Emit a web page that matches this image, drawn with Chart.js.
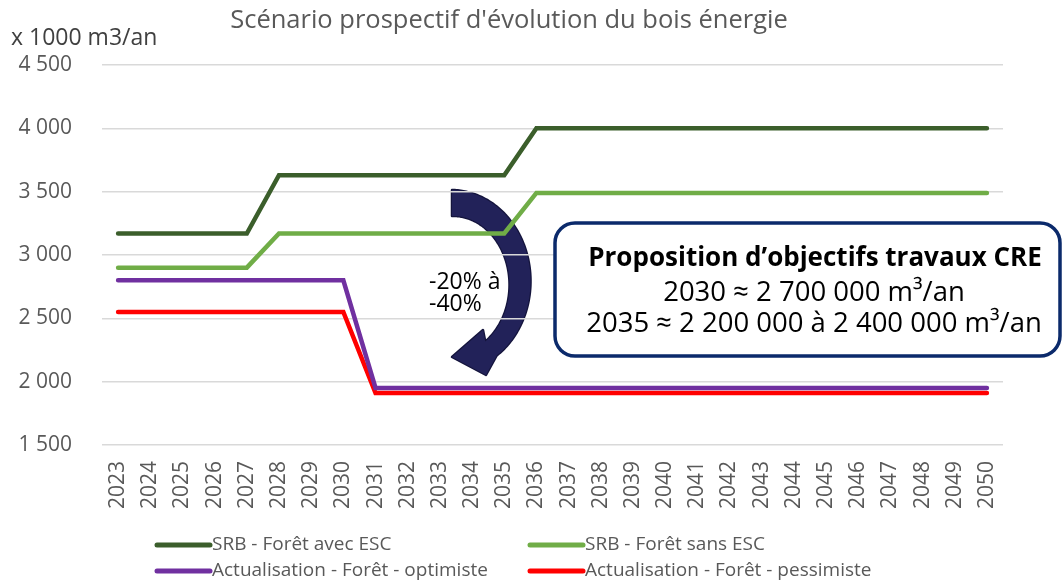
<!DOCTYPE html>
<html>
<head>
<meta charset="utf-8">
<script src="https://cdn.jsdelivr.net/npm/chart.js@4.4.1/dist/chart.umd.min.js"></script>
<style>
  html, body { margin: 0; padding: 0; background: #fff; }
  #wrap { width: 1063px; height: 581px; position: relative; }
</style>
</head>
<body>
<div id="wrap"><canvas id="chart"></canvas></div>
<script>
// ── data ──────────────────────────────────────
const YEARS = [];
for (let y = 2023; y <= 2050; y++) YEARS.push(String(y));

const SRB_AVEC_ESC = [3170, 3170, 3170, 3170, 3170, 3630, 3630, 3630, 3630, 3630, 3630, 3630, 3630, 4000,
  4000, 4000, 4000, 4000, 4000, 4000, 4000, 4000, 4000, 4000, 4000, 4000, 4000, 4000];
const SRB_SANS_ESC = [2900, 2900, 2900, 2900, 2900, 3170, 3170, 3170, 3170, 3170, 3170, 3170, 3170, 3490,
  3490, 3490, 3490, 3490, 3490, 3490, 3490, 3490, 3490, 3490, 3490, 3490, 3490, 3490];
const ACTU_OPTIMISTE = [2800, 2800, 2800, 2800, 2800, 2800, 2800, 2800, 1950, 1950, 1950, 1950, 1950, 1950,
  1950, 1950, 1950, 1950, 1950, 1950, 1950, 1950, 1950, 1950, 1950, 1950, 1950, 1950];
const ACTU_PESSIMISTE = [2550, 2550, 2550, 2550, 2550, 2550, 2550, 2550, 1910, 1910, 1910, 1910, 1910, 1910,
  1910, 1910, 1910, 1910, 1910, 1910, 1910, 1910, 1910, 1910, 1910, 1910, 1910, 1910];

const SERIES_LABELS = ['SRB - Forêt avec ESC', 'SRB - Forêt sans ESC',
  'Actualisation - Forêt - optimiste', 'Actualisation - Forêt - pessimiste'];
const Y_TICKS = [1500, 2000, 2500, 3000, 3500, 4000, 4500];

const TITLE = "Scénario prospectif d'évolution du bois énergie";
const Y_LABEL = 'x 1000 m3/an';
const ARROW_TEXT = ['-20% à', '-40%'];
const BOX_LINES = ['Proposition d’objectifs travaux CRE', '2030 ≈ 2 700 000 m³/an', '2035 ≈ 2 200 000 à 2 400 000 m³/an'];

const FONT = '"Open Sans", "DejaVu Sans", sans-serif';
const GREY = '#595959';

const fmtFr = v => String(v).replace(/\B(?=(\d{3})+(?!\d))/g, ' ');

// ── extras: title, axis label, arrow, box, legend ──
const extras = {
  id: 'extras',
  beforeDraw(chart) {
    // tapered curved arrow, drawn under the gridlines
    const ctx = chart.ctx;
    const cx = 452, cy = 283, rx = 68, ry = 80;
    const a0 = -90, a1 = 55, w0 = 13, w1 = 9;
    const outer = [], inner = [];
    for (let d = a0; d <= a1; d += 1) {
      const t = d * Math.PI / 180;
      const k = (d - a0) / (a1 - a0);
      const w = w0 + (w1 - w0) * k;
      const px = cx + rx * Math.cos(t), py = cy + ry * Math.sin(t);
      // normal of the ellipse
      let nx = Math.cos(t) / rx, ny = Math.sin(t) / ry;
      const nl = Math.hypot(nx, ny); nx /= nl; ny /= nl;
      outer.push([px + nx * w, py + ny * w]);
      inner.push([px - nx * w, py - ny * w]);
    }
    ctx.save();
    ctx.beginPath();
    outer.forEach((p, i) => i ? ctx.lineTo(p[0], p[1]) : ctx.moveTo(p[0], p[1]));
    ctx.lineTo(486, 375);   // lower wing
    ctx.lineTo(452, 357);   // tip
    ctx.lineTo(483, 330);   // upper wing
    inner.slice().reverse().forEach(p => ctx.lineTo(p[0], p[1]));
    ctx.closePath();
    ctx.fillStyle = '#222259';
    ctx.strokeStyle = '#14143c';
    ctx.lineWidth = 2.5;
    ctx.lineJoin = 'round';
    ctx.stroke();
    ctx.fill();
    ctx.restore();
  },
  afterDraw(chart) {
    const ctx = chart.ctx;
    ctx.save();
    // title
    ctx.fillStyle = GREY;
    ctx.font = '25.5px ' + FONT;
    ctx.textAlign = 'center';
    ctx.textBaseline = 'middle';
    ctx.fillText(TITLE, 509, 21);
    // y label
    ctx.fillStyle = '#404040';
    ctx.font = '23px ' + FONT;
    ctx.textAlign = 'left';
    ctx.fillText(Y_LABEL, 11, 38);

    // arrow text
    ctx.fillStyle = '#000';
    ctx.font = '23px ' + FONT;
    ctx.fillText(ARROW_TEXT[0], 429, 282);
    ctx.fillText(ARROW_TEXT[1], 429, 304);

    // box
    const bx = 555, by = 223, bw = 505, bh = 133, br = 20;
    ctx.beginPath();
    ctx.roundRect(bx, by, bw, bh, br);
    ctx.fillStyle = '#fff';
    ctx.fill();
    ctx.lineWidth = 3.5;
    ctx.strokeStyle = '#0b2a6b';
    ctx.stroke();
    ctx.fillStyle = '#000';
    ctx.textAlign = 'center';
    ctx.font = 'bold 26px ' + FONT;
    ctx.fillText(BOX_LINES[0], 815, 259);
    ctx.font = '27.5px ' + FONT;
    ctx.fillText(BOX_LINES[1], 814, 293);
    ctx.fillText(BOX_LINES[2], 814, 324);

    // legend (2 x 2 grid)
    const cols = [157, 530], rows = [545, 571];
    ctx.font = '19px ' + FONT;
    ctx.textAlign = 'left';
    chart.data.datasets.forEach((ds, i) => {
      const x = cols[i % 2], y = rows[Math.floor(i / 2)];
      ctx.beginPath();
      ctx.moveTo(x, y);
      ctx.lineTo(x + 53, y);
      ctx.strokeStyle = ds.borderColor;
      ctx.lineWidth = 5;
      ctx.lineCap = 'round';
      ctx.stroke();
      ctx.fillStyle = GREY;
      ctx.fillText(ds.label, x + 55, y);
    });
    ctx.restore();
  }
};

// ── chart ─────────────────────────────────────
const mk = (label, data, color) => ({
  label, data, borderColor: color, backgroundColor: color,
  borderWidth: 4.5, pointRadius: 0, tension: 0, fill: false,
  borderCapStyle: 'round', borderJoinStyle: 'miter'
});

new Chart(document.getElementById('chart'), {
  type: 'line',
  data: {
    labels: YEARS,
    datasets: [
      mk(SERIES_LABELS[0], SRB_AVEC_ESC, '#3b5e2b'),
      mk(SERIES_LABELS[1], SRB_SANS_ESC, '#70ad47'),
      mk(SERIES_LABELS[2], ACTU_OPTIMISTE, '#7030a0'),
      mk(SERIES_LABELS[3], ACTU_PESSIMISTE, '#ff0000')
    ]
  },
  options: {
    responsive: true, maintainAspectRatio: false, animation: false,
    layout: { padding: { left: 0, right: 60, top: 65, bottom: 66 } },
    plugins: { legend: { display: false }, title: { display: false }, tooltip: { enabled: false } },
    scales: {
      x: {
        offset: true,
        grid: { display: false, drawTicks: false },
        border: { display: false },
        ticks: { color: GREY, font: { family: FONT, size: 21 }, minRotation: 90, maxRotation: 90, padding: 16, autoSkip: false },
        afterFit: s => { s.height = 70; }
      },
      y: {
        min: 1500, max: 4500,
        afterBuildTicks: s => { s.ticks = Y_TICKS.map(v => ({ value: v })); },
        grid: { color: '#d9d9d9', lineWidth: 1.5, drawTicks: false },
        border: { display: false },
        ticks: { color: GREY, font: { family: FONT, size: 21 }, padding: 30, callback: v => fmtFr(v) },
        afterFit: s => { s.width = 102; }
      }
    }
  },
  plugins: [extras]
});
</script>
</body>
</html>
